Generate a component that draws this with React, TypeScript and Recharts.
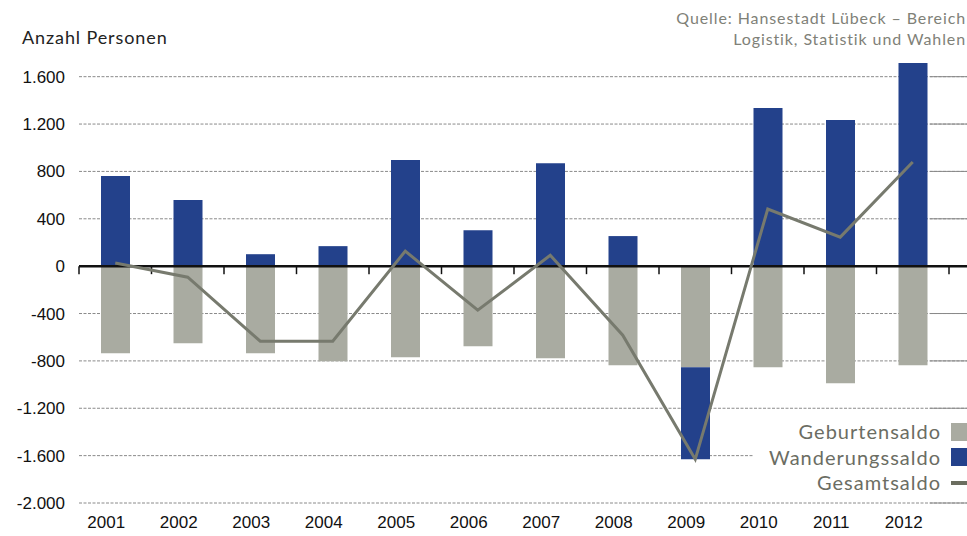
import {
  ComposedChart,
  Bar,
  Line,
  XAxis,
  YAxis,
  CartesianGrid,
  ReferenceLine,
  Legend,
} from "recharts"

const years = ["2001", "2002", "2003", "2004", "2005", "2006", "2007", "2008", "2009", "2010", "2011", "2012"]
const geburtensaldo = [-735, -651, -735, -803, -769, -676, -778, -837, -854, -854, -989, -837]
const wanderungssaldo = [761, 558, 101, 169, 896, 304, 870, 254, -777, 1336, 1234, 1716]
const gesamtsaldo = [26, -93, -634, -634, 127, -372, 92, -583, -1631, 482, 245, 879]
const yTicks = [-2000, -1600, -1200, -800, -400, 0, 400, 800, 1200, 1600]

const data = years.map((year, i) => ({
  year,
  geburtensaldo: geburtensaldo[i],
  wanderungssaldo: wanderungssaldo[i],
  gesamtsaldo: gesamtsaldo[i],
}))

const GRAY = "#a9aba1"
const BLUE = "#23418b"
const LINE = "#777a6e"
const LEGEND_TEXT = "#6b6d63"

const CHART_W = 1000
const PAD_RIGHT = 51

function fmt(v: number) {
  const s = String(Math.abs(v)).replace(/\B(?=(\d{3})+(?!\d))/g, ".")
  return v < 0 ? "-" + s : s
}

// zero line with small ticks between the years
function ZeroLine(props: any) {
  const { x1, x2, y1 } = props
  const band = (x2 - x1 - PAD_RIGHT) / years.length
  const ticks = []
  for (let k = 0; k <= years.length; k++) {
    const x = x1 + k * band
    ticks.push(<line key={k} x1={x} x2={x} y1={y1} y2={y1 + 8} stroke="#111" strokeWidth={1.5} />)
  }
  return (
    <g>
      <line x1={x1} x2={x2} y1={y1} y2={y1} stroke="#111" strokeWidth={2.5} />
      {ticks}
    </g>
  )
}

// grid lines turn solid right of the last bar
function GridTail(props: any) {
  const { x2, y1 } = props
  return <line x1={x2 - PAD_RIGHT - 19} x2={x2} y1={y1} y2={y1} stroke="#8a8a8a" strokeWidth={1} />
}

const legendItems = [
  { label: "Geburtensaldo", color: GRAY, kind: "box" },
  { label: "Wanderungssaldo", color: BLUE, kind: "box" },
  { label: "Gesamtsaldo", color: "#6b6d5f", kind: "line" },
]

function LegendBox() {
  return (
    <div style={{ fontFamily: "Lato", fontSize: 20, color: LEGEND_TEXT, letterSpacing: 1 }}>
      {legendItems.map((it) => (
        <div
          key={it.label}
          style={{ display: "flex", justifyContent: "flex-end", alignItems: "center", height: 25.5 }}
        >
          <span style={{ background: "#fff", paddingLeft: 16, paddingRight: 10, lineHeight: "25.5px" }}>
            {it.label}
          </span>
          <span
            style={{
              display: "inline-block",
              width: 18,
              height: it.kind === "box" ? 18 : 4,
              background: it.color,
            }}
          />
        </div>
      ))}
    </div>
  )
}

export default function App() {
  return (
    <div style={{ position: "absolute", left: 0, top: 0, width: 967, height: 536, overflow: "hidden", background: "#fff" }}>
      <div style={{ position: "absolute", left: 22, top: 26, fontFamily: "Lato", fontSize: 18, color: "#222", letterSpacing: 0.9 }}>
        Anzahl Personen
      </div>
      <div
        style={{
          position: "absolute",
          right: 1,
          top: 7,
          textAlign: "right",
          fontFamily: "Lato",
          fontSize: 16,
          lineHeight: "21px",
          color: "#808178",
          letterSpacing: 0.9,
        }}
      >
        Quelle: Hansestadt Lübeck – Bereich
        <br />
        Logistik, Statistik und Wahlen
      </div>
      <ComposedChart
        width={CHART_W}
        height={536}
        data={data}
        stackOffset="sign"
        margin={{ top: 53, right: 0, bottom: 0, left: 0 }}
      >
        <CartesianGrid vertical={false} horizontalValues={yTicks} stroke="#8a8a8a" strokeDasharray="3 1.5" />
        <XAxis
          dataKey="year"
          axisLine={false}
          tickLine={false}
          height={33}
          padding={{ left: 0, right: PAD_RIGHT }}
          tick={{ fontFamily: "Liberation Sans", fontSize: 17, fill: "#111", dx: -9, dy: 5 }}
        />
        <YAxis
          width={79}
          domain={[-2000, 1800]}
          ticks={yTicks}
          tickFormatter={fmt}
          axisLine={false}
          tickLine={false}
          tick={{ fontFamily: "Liberation Sans", fontSize: 17, fill: "#111", dx: -6 }}
        />
        {yTicks
          .filter((v) => v !== 0)
          .map((v) => (
            <ReferenceLine key={v} y={v} shape={GridTail} />
          ))}
        <Bar dataKey="geburtensaldo" stackId="a" fill={GRAY} barSize={29} isAnimationActive={false} />
        <Bar dataKey="wanderungssaldo" stackId="a" fill={BLUE} barSize={29} isAnimationActive={false} />
        <ReferenceLine y={0} shape={ZeroLine} />
        <Line
          type="linear"
          dataKey="gesamtsaldo"
          stroke={LINE}
          strokeWidth={3}
          dot={false}
          isAnimationActive={false}
        />
        <Legend
          layout="vertical"
          align="center"
          verticalAlign="middle"
          content={LegendBox}
          wrapperStyle={{ top: 419, left: "auto", right: CHART_W - 967 - 2, width: "auto" }}
        />
      </ComposedChart>
    </div>
  )
}
